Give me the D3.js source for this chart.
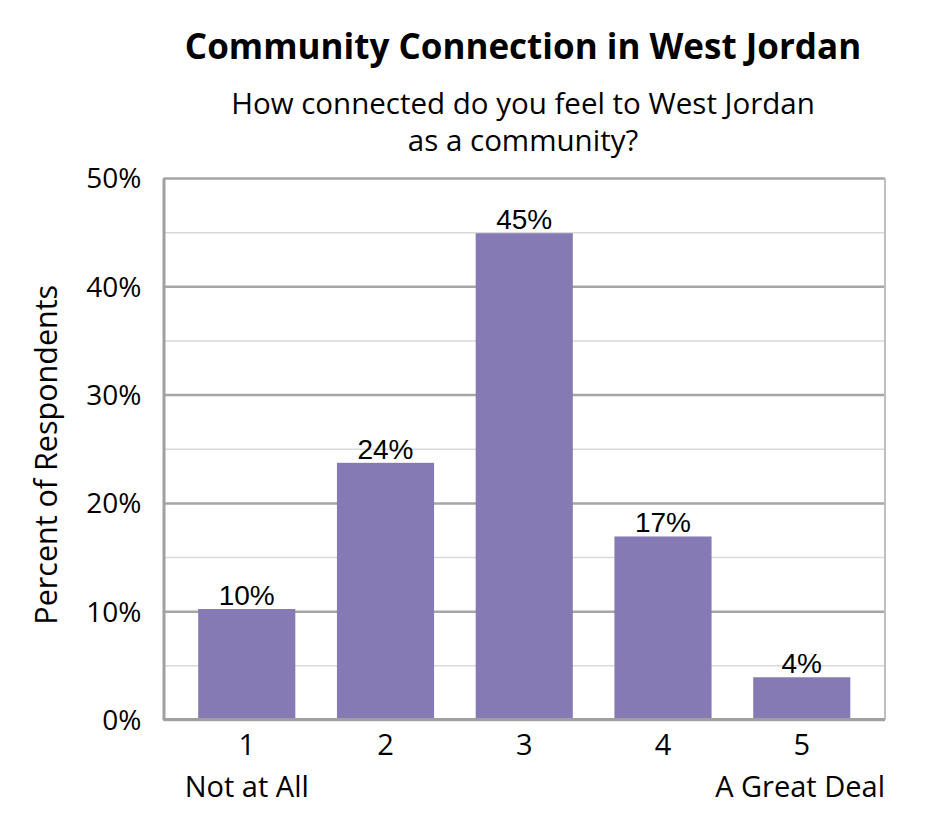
<!DOCTYPE html>
<html>
<head>
<meta charset="utf-8">
<script src="https://cdn.jsdelivr.net/npm/d3@7"></script>
<style>
  body { margin: 0; background: #fff; }
  text { font-family: "Open Sans", Lato, sans-serif; fill: #000; }
  text.val { font-family: "Liberation Sans", Arial, sans-serif; }
</style>
</head>
<body>
<div id="chart"></div>
<script>
const categories = ["1", "2", "3", "4", "5"];
const subLabels = ["Not at All", "", "", "", "A Great Deal"];
const values = [10.2, 23.7, 44.9, 16.9, 3.9];
const valueLabels = ["10%", "24%", "45%", "17%", "4%"];
const yTicks = [0, 10, 20, 30, 40, 50];
const yMinor = [5, 15, 25, 35, 45];

const w = 945;
const h = 840;
const plotLeft = 163.5;
const plotRight = 885;
const plotTop = 178;
const plotBottom = 719.5;
const barColor = "#867ab4";

const svg = d3
  .select("#chart")
  .append("svg")
  .attr("width", w)
  .attr("height", h);

const x = d3
  .scaleBand()
  .domain(categories)
  .range([plotLeft, plotRight])
  .paddingInner(0.3)
  .paddingOuter(0.25);
const y = d3.scaleLinear().domain([0, 50]).range([plotBottom, plotTop]);

// minor gridlines
svg
  .append("g")
  .attr("transform", `translate(${plotLeft},0)`)
  .call(d3.axisLeft(y).tickValues(yMinor).tickSize(-(plotRight - plotLeft)).tickFormat(""))
  .call((g) => g.select(".domain").remove())
  .call((g) => g.selectAll("line").attr("stroke", "#d9d9d9").attr("stroke-width", 1.5));

// major gridlines
svg
  .append("g")
  .attr("transform", `translate(${plotLeft},0)`)
  .call(d3.axisLeft(y).tickValues(yTicks).tickSize(-(plotRight - plotLeft)).tickFormat(""))
  .call((g) => g.select(".domain").remove())
  .call((g) => g.selectAll("line").attr("stroke", "#a6a6a6").attr("stroke-width", 2.5));

// right border
svg
  .append("line")
  .attr("x1", plotRight)
  .attr("x2", plotRight)
  .attr("y1", plotTop)
  .attr("y2", plotBottom)
  .attr("stroke", "#bfbfbf")
  .attr("stroke-width", 2);

// bars
svg
  .selectAll("rect.bar")
  .data(values)
  .enter()
  .append("rect")
  .attr("class", "bar")
  .attr("x", (d, i) => x(categories[i]))
  .attr("y", (d) => y(d))
  .attr("width", x.bandwidth())
  .attr("height", (d) => y(0) - y(d))
  .attr("fill", barColor);

// value labels
svg
  .selectAll("text.val")
  .data(values)
  .enter()
  .append("text")
  .attr("class", "val")
  .attr("x", (d, i) => x(categories[i]) + x.bandwidth() / 2)
  .attr("y", (d) => y(d) - 4)
  .attr("text-anchor", "middle")
  .style("font-size", "28px")
  .text((d, i) => valueLabels[i]);

// y axis
const yAxis = svg
  .append("g")
  .attr("transform", `translate(${plotLeft},0)`)
  .call(d3.axisLeft(y).tickValues(yTicks).tickSize(0).tickPadding(22).tickFormat((d) => d + "%"));
yAxis.select(".domain").attr("stroke", "#a0a0a0").attr("stroke-width", 3);
yAxis.selectAll("text").style("font-size", "28px").attr("dy", "0.35em");

// x axis
const xAxis = svg
  .append("g")
  .attr("transform", `translate(0,${plotBottom})`)
  .call(d3.axisBottom(x).tickSize(0).tickPadding(15));
xAxis.select(".domain").attr("d", `M${plotLeft},0H${plotRight}`).attr("stroke", "#a0a0a0").attr("stroke-width", 3);
xAxis.selectAll("text").style("font-size", "29px");

svg
  .selectAll("text.sub")
  .data(subLabels)
  .enter()
  .append("text")
  .attr("class", "sub")
  .attr("x", (d, i) => (i === 4 ? plotRight : x(categories[i]) + x.bandwidth() / 2))
  .attr("y", 797)
  .attr("text-anchor", (d, i) => (i === 4 ? "end" : "middle"))
  .style("font-size", "29px")
  .text((d) => d);

// y axis title
svg
  .append("text")
  .attr("transform", `translate(57,${(plotTop + plotBottom) / 2 + 6}) rotate(-90)`)
  .attr("text-anchor", "middle")
  .style("font-size", "30.5px")
  .text("Percent of Respondents");

// titles
svg
  .append("text")
  .attr("x", 523)
  .attr("y", 59)
  .attr("text-anchor", "middle")
  .style("font-size", "35px")
  .style("font-weight", "bold")
  .text("Community Connection in West Jordan");

svg
  .append("text")
  .attr("x", 523)
  .attr("y", 114)
  .attr("text-anchor", "middle")
  .style("font-size", "29.5px")
  .text("How connected do you feel to West Jordan");

svg
  .append("text")
  .attr("x", 523)
  .attr("y", 151)
  .attr("text-anchor", "middle")
  .style("font-size", "29.5px")
  .text("as a community?");
</script>
</body>
</html>
